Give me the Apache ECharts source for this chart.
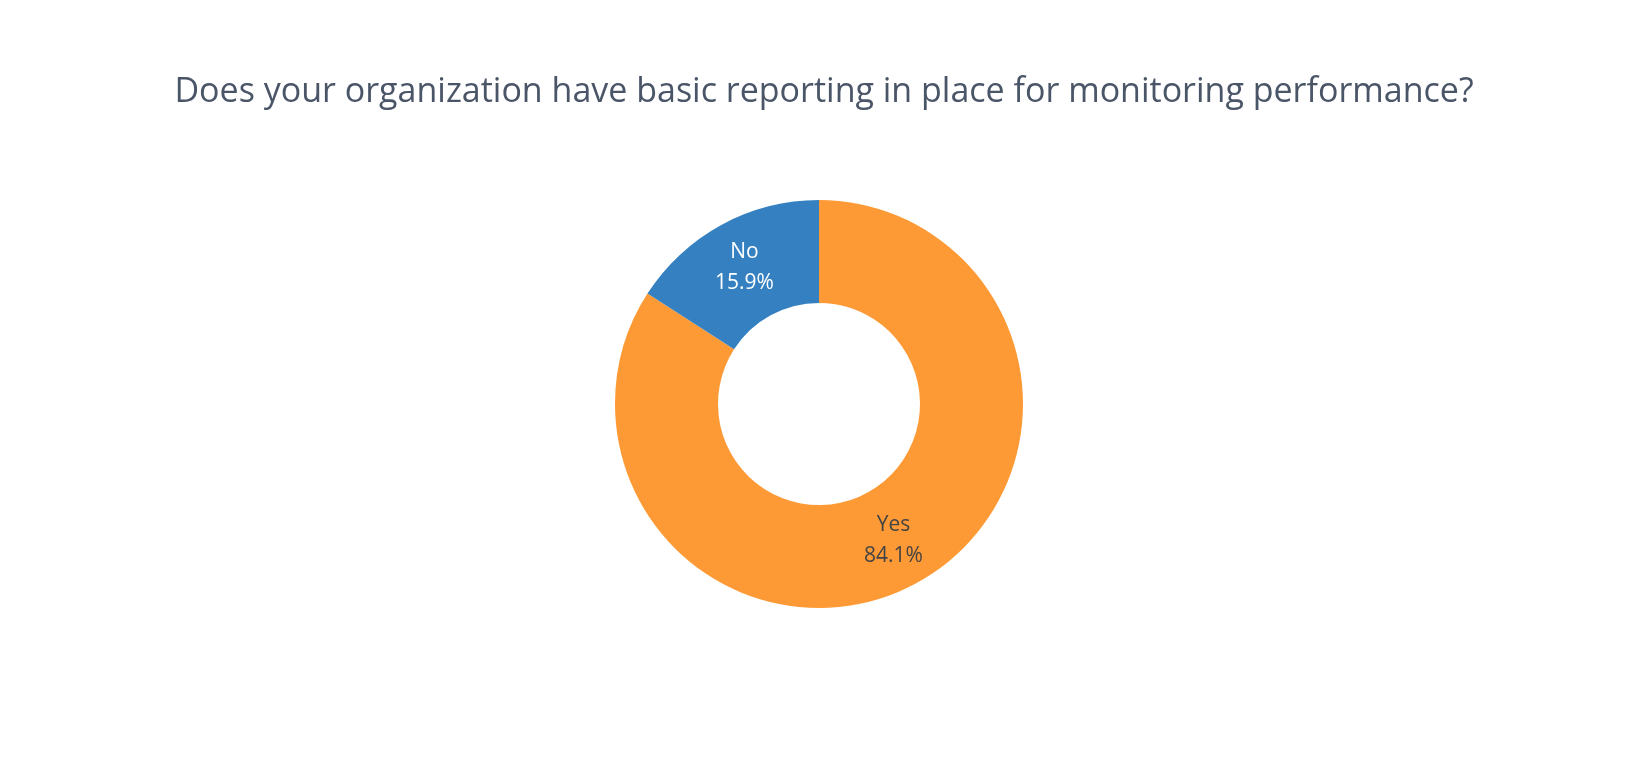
<!DOCTYPE html>
<html>
<head>
<meta charset="utf-8" />
<title>Reporting</title>
<style>html,body{margin:0;padding:0;background:#fff}</style>
</head>
<body>
<div id="main" style="width:1638px;height:768px"></div>
<script src="https://cdn.jsdelivr.net/npm/echarts@6/dist/echarts.min.js"></script>
<script>
const labels = ['Yes', 'No'];
const values = [84.1, 15.9];
const colors = ['#fe9a36', '#3580c0'];
const labelColors = ['#444', '#fff'];

const chart = echarts.init(document.getElementById('main'));
chart.setOption({
  title: {
    text: 'Does your organization have basic reporting in place for monitoring performance?',
    left: 819, top: 70, textAlign: 'center',
    textStyle: { fontFamily: 'Open Sans', fontSize: 34, fontWeight: 'normal', color: '#4a5568' }
  },
  series: [{
    type: 'pie',
    center: [819, 404],
    radius: [101, 204],
    startAngle: 90,
    clockwise: true,
    animation: false,
    data: labels.map((name, i) => ({
      name, value: values[i],
      itemStyle: { color: colors[i] },
      label: { color: labelColors[i] }
    })),
    label: {
      position: 'inside',
      fontFamily: 'Open Sans',
      fontSize: 21,
      lineHeight: 31,
      formatter: p => p.name + '\n' + p.value.toFixed(1) + '%'
    },
    labelLine: { show: false }
  }]
});
</script>
</body>
</html>
